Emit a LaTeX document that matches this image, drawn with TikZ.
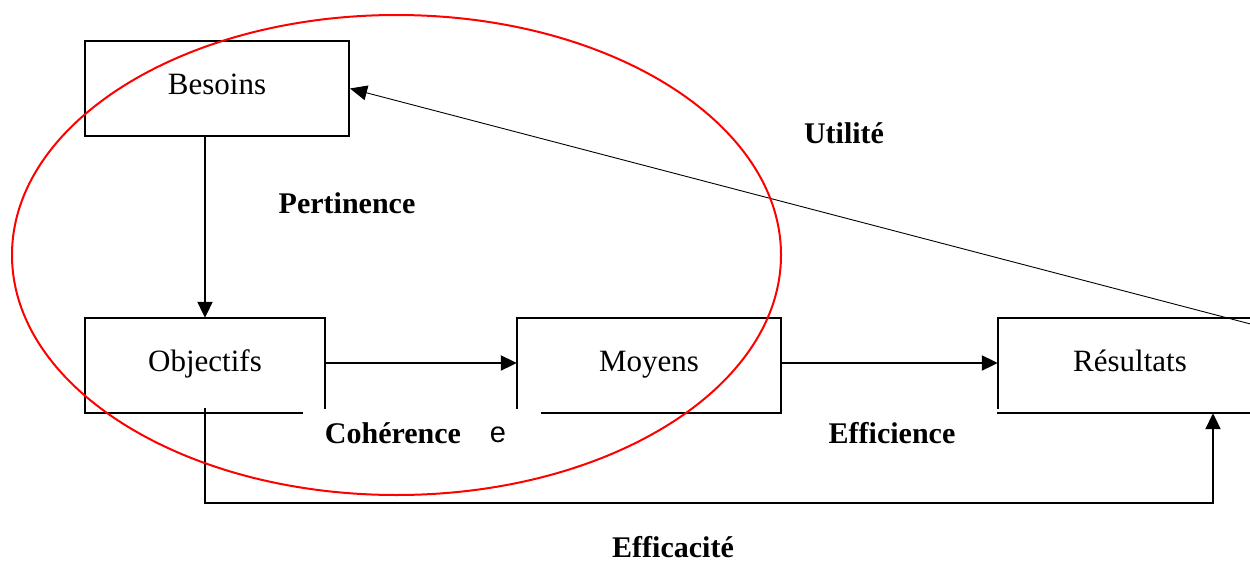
\documentclass[tikz,border=0pt]{standalone}
\usepackage{fontspec}
\setmainfont{Liberation Serif}
\newfontfamily\arialfont{Liberation Sans}
\usetikzlibrary{arrows.meta}
\tikzset{
  boxtext/.style={minimum width=240pt, minimum height=95pt, inner sep=0pt, text height=20pt, text depth=8pt, font=\fontsize{31}{36}\selectfont},
  border/.style={line width=2.1pt, line cap=rect},
  conn/.style={line width=2pt, -{Triangle[length=16pt,width=15pt]}},
  thinconn/.style={line width=0.9pt, -{Triangle[length=17pt,width=15pt]}},
  lbl/.style={font=\fontsize{30}{36}\selectfont\bfseries, inner sep=0pt},
  ring/.style={draw=red, line width=2pt}
}
\begin{document}
\begin{tikzpicture}[x=1pt,y=-1pt]
\useasboundingbox (0,0) rectangle (1250,562);
\clip (0,0) rectangle (1250,562);
\fill[white] (0,0) rectangle (1250,562);
% nodes
\node[boxtext, minimum width=264pt, draw, line width=2.1pt] (Bes) at (217,88.5) {Besoins};
\node[boxtext] (Obj) at (205,365.5) {Objectifs};
\node[boxtext, minimum width=264pt] (Moy) at (649,365.5) {Moyens};
\node[boxtext, minimum width=264pt] (Res) at (1130,365.5) {Résultats};
% partial borders
\draw[border] (Obj.south west) -- (Obj.north west) -- (Obj.north east) -- ([yshift=5pt]Obj.south east);
\draw[border] (Obj.south west) -- ([xshift=-23pt]Obj.south east);
\draw[border] ([yshift=5pt]Moy.south west) -- (Moy.north west) -- (Moy.north east) -- (Moy.south east) -- ([xshift=25pt]Moy.south west);
\draw[border] ([yshift=5pt]Res.south west) -- (Res.north west) -- (Res.north east);
\draw[border] (Res.south west) -- (Res.south east);
% connectors
\draw[conn] (Obj.north |- Bes.south) -- (Obj.north);
\draw[conn] ([yshift=2.5pt]Obj.east) -- ([yshift=2.5pt]Moy.west);
\draw[conn] ([yshift=2.5pt]Moy.east) -- ([yshift=2.5pt]Res.west);
\coordinate (eb) at (1213,503);
\draw[conn] ([yshift=5pt]Obj.south) |- (eb) -- (Res.south -| eb);
\coordinate (uf) at (1262,327);
\draw[thinconn] (uf) -- (Bes.east);
% labels
\node[lbl] (lUt) at (844,133) {Utilité};
\node[lbl] (lPer) at (347,203) {Pertinence};
\node[lbl] (lCoh) at (393,433) {Cohérence};
\node[font=\fontsize{29}{34}\selectfont\arialfont, inner sep=0pt] (lE) at (498,435) {e};
\node[lbl] (lEfi) at (892,433) {Efficience};
\node[lbl] (lEfa) at (673,547) {Efficacité};
% red ellipse
\draw[ring] (396.5,255) ellipse [x radius=384.5pt, y radius=240pt];
\end{tikzpicture}
\end{document}
